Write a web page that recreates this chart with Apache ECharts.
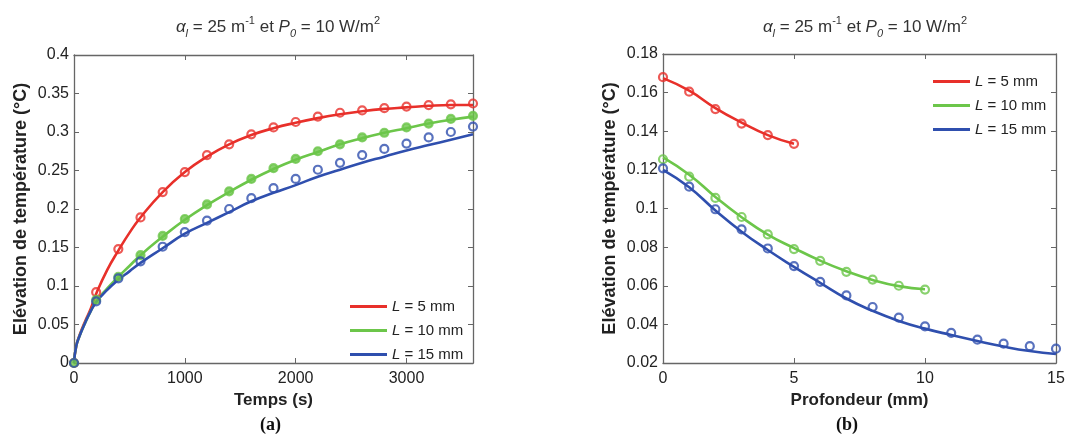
<!DOCTYPE html>
<html><head><meta charset="utf-8">
<script src="https://cdn.jsdelivr.net/npm/echarts@6/dist/echarts.min.js"></script>
<style>html,body{margin:0;padding:0;background:#fff}#c{width:1087px;height:441px}</style>
</head><body><div id="c"></div>
<script>
// ---- Data: panel (a) ----
const timeMarks = [0,200,400,600,800,1000,1200,1400,1600,1800,2000,2200,2400,2600,2800,3000,3200,3400,3600];
const redPtsA   = [0,0.092,0.148,0.189,0.222,0.248,0.270,0.284,0.297,0.306,0.313,0.320,0.325,0.328,0.331,0.333,0.335,0.336,0.337];
const greenPtsA = [0,0.082,0.112,0.140,0.165,0.187,0.206,0.223,0.239,0.253,0.265,0.275,0.284,0.293,0.299,0.306,0.311,0.317,0.321];
const bluePtsA  = [0,0.080,0.110,0.132,0.151,0.170,0.185,0.200,0.214,0.227,0.239,0.251,0.260,0.270,0.278,0.285,0.293,0.300,0.307];
const timeLine  = [0,20,50,100,150,200,300,400,500,600,800,1000,1200,1400,1600,1800,2000,2200,2400,2600,2800,3000,3200,3400,3600];
const redLineA  = [0,0.022,0.036,0.054,0.070,0.090,0.121,0.146,0.169,0.189,0.222,0.248,0.268,0.284,0.296,0.305,0.312,0.318,0.323,0.327,0.330,0.332,0.334,0.335,0.335];
const greenLineA= [0,0.022,0.035,0.052,0.067,0.080,0.097,0.112,0.126,0.140,0.164,0.186,0.205,0.222,0.238,0.252,0.264,0.274,0.284,0.292,0.299,0.305,0.311,0.316,0.320];
const blueLineA = [0,0.022,0.035,0.052,0.067,0.079,0.095,0.108,0.119,0.130,0.149,0.168,0.182,0.196,0.210,0.221,0.231,0.242,0.251,0.260,0.268,0.276,0.283,0.290,0.297];
// ---- Data: panel (b) ----
const depthMarks = [0,1,2,3,4,5,6,7,8,9,10,11,12,13,14,15];
const redPtsB   = [0.168,0.1605,0.1515,0.144,0.138,0.1335];
const redLineB  = [0.1675,0.161,0.152,0.1445,0.138,0.1335];
const greenPtsB = [0.1255,0.1165,0.1055,0.0956,0.0866,0.079,0.0729,0.0672,0.0632,0.060,0.058];
const greenLineB= [0.1265,0.1175,0.106,0.0955,0.0865,0.0795,0.073,0.0675,0.063,0.0598,0.0582];
const bluePtsB  = [0.1208,0.1113,0.0996,0.0892,0.0793,0.0702,0.062,0.055,0.049,0.0435,0.039,0.0356,0.0321,0.030,0.0287,0.0274];
const blueLineB = [0.120,0.111,0.099,0.088,0.0785,0.0698,0.0615,0.0534,0.047,0.0418,0.0378,0.0345,0.0314,0.0285,0.0262,0.0247];
const seriesNames = ['L = 5 mm','L = 10 mm','L = 15 mm'];
const xTitleA = 'Temps (s)', xTitleB = 'Profondeur (mm)', yTitle = 'Elévation de température (°C)';

const RED='#e8302a', GREEN='#6cc64a', BLUE='#2f4fae';
const FONT='"Liberation Sans", Arial, sans-serif';
const pair = (xs, ys) => ys.map((v,i)=>[xs[i], v]);

function xAx(grid, min, max, interval, name, top){
  return {gridIndex:grid, type:'value', min, max, interval, position: top?'top':'bottom',
    name: top?'':name, nameLocation:'middle', nameGap:24,
    nameTextStyle:{fontFamily:FONT, fontWeight:'bold', fontSize:17, color:'#222'},
    axisLine:{show:true, onZero:false, lineStyle:{color:'#666', width:1.3}},
    axisTick:{show:true, inside:true, length:5, lineStyle:{color:'#666'}},
    axisLabel:{show:!top, fontFamily:FONT, fontSize:16, color:'#222', margin:8,
      showMaxLabel:(max%interval===0), formatter: v => String(v)},
    splitLine:{show:false}};
}
function yAx(grid, min, max, interval, name, right){
  return {gridIndex:grid, type:'value', min, max, interval, position: right?'right':'left',
    name: right?'':name, nameLocation:'middle', nameGap:44,
    nameTextStyle:{fontFamily:FONT, fontWeight:'bold', fontSize:18, color:'#222'},
    axisLine:{show:true, onZero:false, lineStyle:{color:'#666', width:1.3}},
    axisTick:{show:true, inside:true, length:5, lineStyle:{color:'#666'}},
    axisLabel:{show:!right, fontFamily:FONT, fontSize:16, color:'#222', margin:5},
    splitLine:{show:false}};
}
function lineS(name, xi, yi, data, color){
  return {name, type:'line', xAxisIndex:xi, yAxisIndex:yi, data, smooth:true,
    showSymbol:false, symbol:'none', lineStyle:{color, width:2.6}, itemStyle:{color}, z:2};
}
function ptsS(name, xi, yi, data, color, filled){
  return {name:name+' pts', type:'scatter', xAxisIndex:xi, yAxisIndex:yi, data, symbol:'circle', symbolSize:8,
    itemStyle:{color: filled?color:'rgba(255,255,255,0)', borderColor:color, borderWidth:2.2}, z:3};
}
const rich = {
  n:{fontFamily:FONT, fontSize:17, fontWeight:'normal', color:'#333', lineHeight:24, verticalAlign:'middle'},
  i:{fontFamily:FONT, fontSize:17, fontWeight:'normal', fontStyle:'italic', color:'#333', lineHeight:24, verticalAlign:'middle'},
  s:{fontFamily:FONT, fontSize:11, fontWeight:'normal', fontStyle:'italic', color:'#333', lineHeight:24, verticalAlign:'bottom', padding:[7,0,0,0]},
  u:{fontFamily:FONT, fontSize:11, fontWeight:'normal', color:'#333', lineHeight:24, verticalAlign:'top', padding:[0,0,9,0]}
};
const titleText = '{i|α}{s|l}{n| = 25 m}{u|-1}{n| et }{i|P}{s|0}{n| = 10 W/m}{u|2}';
const legendFmt = name => '{i|L}{n|' + name.slice(1) + '}';
const legRich = {
  i:{fontFamily:FONT, fontSize:15, fontStyle:'italic', color:'#222'},
  n:{fontFamily:FONT, fontSize:15, color:'#222'}
};

const chart = echarts.init(document.getElementById('c'), null, {renderer:'canvas'});
chart.setOption({
  animation:false,
  backgroundColor:'#fff',
  title:[
    {text:titleText, left:273, top:10, textAlign:'center', textStyle:{fontWeight:'normal', rich}},
    {text:titleText, left:860, top:10, textAlign:'center', textStyle:{fontWeight:'normal', rich}}
  ],
  grid:[
    {left:74, top:55, width:399, height:308},
    {left:663, top:54, width:393, height:309}
  ],
  legend:[
    {data:seriesNames, orient:'vertical', left:345, top:294, itemWidth:37, itemHeight:3, itemGap:9, icon:'rect',
      formatter:legendFmt, textStyle:{rich:legRich}},
    {data:seriesNames, orient:'vertical', left:928, top:69, itemWidth:37, itemHeight:3, itemGap:9, icon:'rect',
      formatter:legendFmt, textStyle:{rich:legRich}}
  ],
  xAxis:[
    xAx(0,0,3600,1000,xTitleA,false), xAx(0,0,3600,1000,'',true),
    xAx(1,0,15,5,xTitleB,false), xAx(1,0,15,5,'',true)
  ],
  yAxis:[
    yAx(0,0,0.4,0.05,yTitle,false), yAx(0,0,0.4,0.05,'',true),
    yAx(1,0.02,0.18,0.02,yTitle,false), yAx(1,0.02,0.18,0.02,'',true)
  ],
  graphic:[
    {type:'text', left:260, top:416, style:{text:'(a)', font:'bold 18px "Liberation Serif", serif', fill:'#111'}},
    {type:'text', left:836, top:416, style:{text:'(b)', font:'bold 18px "Liberation Serif", serif', fill:'#111'}}
  ],
  series:[
    lineS(seriesNames[0],0,0,pair(timeLine,redLineA),RED),
    lineS(seriesNames[1],0,0,pair(timeLine,greenLineA),GREEN),
    lineS(seriesNames[2],0,0,pair(timeLine,blueLineA),BLUE),
    ptsS(seriesNames[0],0,0,pair(timeMarks,redPtsA),RED,false),
    ptsS(seriesNames[1],0,0,pair(timeMarks,greenPtsA),GREEN,true),
    ptsS(seriesNames[2],0,0,pair(timeMarks,bluePtsA),BLUE,false),
    lineS(seriesNames[0],2,2,pair(depthMarks,redLineB),RED),
    lineS(seriesNames[1],2,2,pair(depthMarks,greenLineB),GREEN),
    lineS(seriesNames[2],2,2,pair(depthMarks,blueLineB),BLUE),
    ptsS(seriesNames[0],2,2,pair(depthMarks,redPtsB),RED,false),
    ptsS(seriesNames[1],2,2,pair(depthMarks,greenPtsB),GREEN,false),
    ptsS(seriesNames[2],2,2,pair(depthMarks,bluePtsB),BLUE,false)
  ]
});
</script></body></html>
